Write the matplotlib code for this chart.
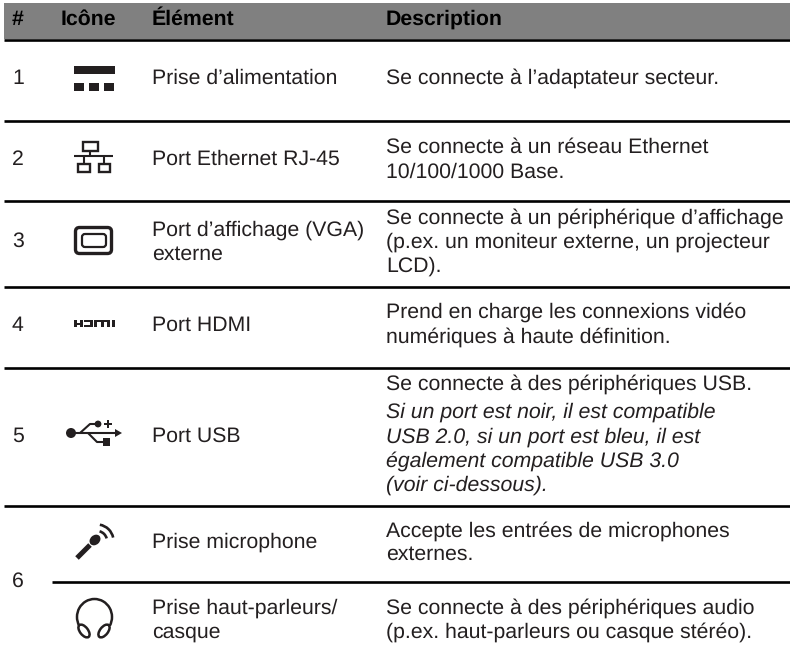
import matplotlib
matplotlib.use("Agg")
import matplotlib.pyplot as plt
from matplotlib.patches import Rectangle, FancyBboxPatch, Circle, Ellipse, Arc, Polygon

plt.rcParams["font.family"] = ["Liberation Sans", "DejaVu Sans"]
plt.rcParams["text.hinting"] = "none"

''' Data '''
headers = ["#", "Icône", "Élément", "Description"]
numbers = ["1", "2", "3", "4", "5", "6"]
elements = ["Prise d’alimentation", "Port Ethernet RJ-45",
            "Port d’affichage (VGA)", "externe", "Port HDMI", "Port USB",
            "Prise microphone", "Prise haut-parleurs/", "casque"]
descriptions = ["Se connecte à l’adaptateur secteur.",
                "Se connecte à un réseau Ethernet", "10/100/1000 Base.",
                "Se connecte à un périphérique d’affichage",
                "(p.ex. un moniteur externe, un projecteur", "LCD).",
                "Prend en charge les connexions vidéo",
                "numériques à haute définition.",
                "Se connecte à des périphériques USB."]
notes = ["Si un port est noir, il est compatible",
         "USB 2.0, si un port est bleu, il est",
         "également compatible USB 3.0",
         "(voir ci-dessous)."]
descriptions2 = ["Accepte les entrées de microphones", "externes.",
                 "Se connecte à des périphériques audio",
                 "(p.ex. haut-parleurs ou casque stéréo)."]

''' Layout, in pixels '''
header_x = [12, 61, 152, 386]
number_y = [84, 165, 247, 331, 442, 587]
element_y = [84, 165, 236, 260, 331, 442, 548, 614, 638]
description_y = [84, 153, 178, 224, 248, 272, 318, 343, 390]
note_y = [418, 443, 467, 491]
description2_y = [537, 560, 614, 638]
rule_y = [39.5, 120.5, 201, 287, 367.5, 506]

BLACK = "#231f20"
SIZE = 15.3
RULE = 1.9

fig = plt.figure(figsize=(7.9, 6.6), dpi=100)
ax = fig.add_axes([0, 0, 1, 1])
ax.set_xlim(0, 790)
ax.set_ylim(660, 0)
ax.axis("off")

''' Header and rules '''
ax.add_patch(Rectangle((4, 3), 786, 36, color="#808080", lw=0))
for y in rule_y:
    ax.plot([4, 790], [y, y], color="black", lw=RULE, solid_capstyle="butt")
ax.plot([52, 790], [582, 582], color="black", lw=RULE, solid_capstyle="butt")

for x, label in zip(header_x, headers):
    ax.text(x, 25, label, fontsize=SIZE, fontweight="bold", color="black", va="baseline")

''' Text columns '''
for y, label in zip(number_y, numbers):
    ax.text(12, y, label, fontsize=SIZE, color=BLACK, va="baseline")
for y, label in zip(element_y, elements):
    ax.text(152, y, label, fontsize=SIZE, color=BLACK, va="baseline")
for y, label in zip(description_y, descriptions):
    ax.text(386, y, label, fontsize=SIZE, color=BLACK, va="baseline")
for y, label in zip(note_y, notes):
    ax.text(386, y, label, fontsize=SIZE, style="italic", color=BLACK, va="baseline")
for y, label in zip(description2_y, descriptions2):
    ax.text(386, y, label, fontsize=SIZE, color=BLACK, va="baseline")


''' Icons '''
def box(x0, y0, x1, y1):
    ax.add_patch(Rectangle((x0, y0), x1 - x0, y1 - y0, color=BLACK, lw=0))

def frame(x0, y0, x1, y1, lw=1.7):
    ax.add_patch(Rectangle((x0, y0), x1 - x0, y1 - y0, fc="none", ec=BLACK, lw=lw))

def line(xs, ys, lw=1.5):
    ax.plot(xs, ys, color=BLACK, lw=lw, solid_capstyle="butt")

# power
box(74, 66, 115, 74)
for x in (74, 89, 104):
    box(x, 83, x + 10, 91)

# ethernet
frame(83, 142, 98, 151)
frame(78, 164, 90, 172)
frame(99, 164, 110, 172)
line([74, 113], [155.5, 155.5])
line([90, 90], [151, 155.5])
line([84, 84], [155.5, 164])
line([104, 104], [155.5, 164])

# vga
ax.add_patch(FancyBboxPatch((75.5, 227.5), 36, 26, boxstyle="round,pad=0,rounding_size=4",
                            fc="none", ec=BLACK, lw=2.4))
ax.add_patch(FancyBboxPatch((82, 234), 24, 13, boxstyle="round,pad=0,rounding_size=3",
                            fc="none", ec=BLACK, lw=1.6))

# hdmi
box(74, 320, 77, 327)
box(79.5, 320, 82.5, 327)
box(77, 322.5, 79.5, 324.8)
box(84, 320, 92.5, 322.2)
box(84, 324.8, 92.5, 327)
box(89.5, 320, 92.5, 327)
box(94, 320, 110, 322.2)
box(94, 320, 97, 327)
box(100.5, 320, 103.5, 327)
box(107, 320, 110, 327)
box(112, 320, 115, 327)

# usb
ax.add_patch(Circle((71, 433), 5, color=BLACK, lw=0))
line([71, 118], [433, 433])
line([80, 90, 97], [433, 424, 424])
line([88, 97, 104], [433, 442, 442])
ax.add_patch(Circle((98, 424), 3.4, color=BLACK, lw=0))
box(103, 438, 110, 446)
ax.add_patch(Polygon([[115, 429], [122, 433], [115, 437]], color=BLACK, lw=0))
box(104, 423, 112, 425.2)
box(106.9, 420, 109.1, 428.2)

# microphone
line([77, 90], [558, 545], lw=3.6)
ax.add_patch(Ellipse((95, 540), 12, 9.5, angle=-42, color=BLACK, lw=0))
ax.add_patch(Arc((97, 541), 20, 20, theta1=-75, theta2=-15, color=BLACK, lw=1.9))
ax.add_patch(Arc((97, 541), 33, 33, theta1=-80, theta2=-12, color=BLACK, lw=1.9))

# headphones
ax.add_patch(Arc((94.5, 617), 35, 36, theta1=150, theta2=30, color=BLACK, lw=1.8))
ax.add_patch(Ellipse((84, 631), 15, 8, angle=52, fc="none", ec=BLACK, lw=1.8))
ax.add_patch(Ellipse((104, 631), 15, 8, angle=-52, fc="none", ec=BLACK, lw=1.8))

fig.savefig("out.png", dpi=100)
